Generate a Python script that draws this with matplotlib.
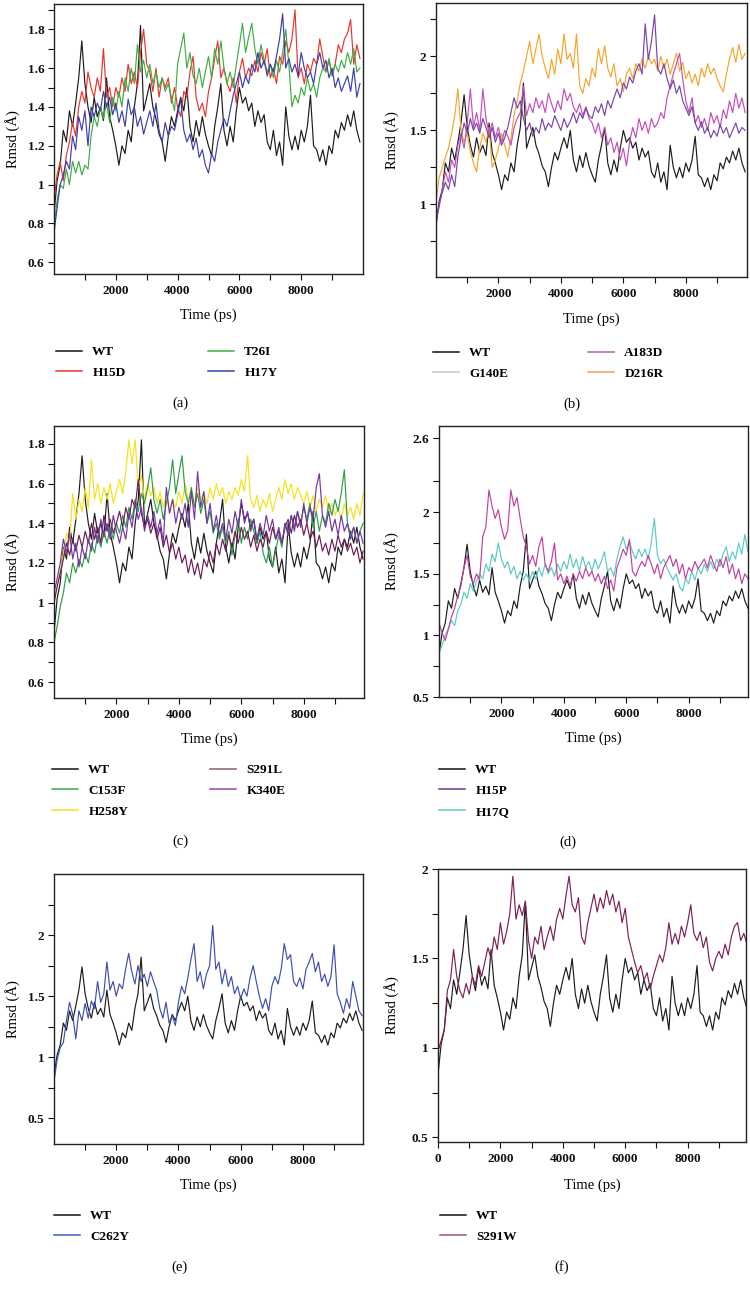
import numpy as np
import matplotlib
matplotlib.use("Agg")
import matplotlib.pyplot as plt
from matplotlib.lines import Line2D
from matplotlib.ticker import FixedLocator, FuncFormatter

plt.rcParams['font.family'] = ['Liberation Serif', 'DejaVu Serif']

# ---------------- data (RMSD in Angstrom, every 100 ps) ----------------
time_ps = np.arange(0, 10000, 100)

WT = [0.85, 1.02, 1.10, 1.28, 1.22, 1.38, 1.30, 1.42, 1.55, 1.74,
      1.52, 1.40, 1.32, 1.45, 1.35, 1.40, 1.33, 1.55, 1.35, 1.28,
      1.20, 1.10, 1.20, 1.16, 1.28, 1.22, 1.40, 1.52, 1.82, 1.38,
      1.45, 1.52, 1.40, 1.34, 1.26, 1.22, 1.12, 1.25, 1.35, 1.30,
      1.38, 1.45, 1.38, 1.50, 1.30, 1.22, 1.33, 1.25, 1.35, 1.26,
      1.20, 1.15, 1.30, 1.40, 1.52, 1.28, 1.20, 1.30, 1.22, 1.38,
      1.50, 1.42, 1.45, 1.38, 1.42, 1.30, 1.38, 1.32, 1.36, 1.22,
      1.18, 1.28, 1.15, 1.22, 1.10, 1.40, 1.25, 1.18, 1.25, 1.18,
      1.28, 1.22, 1.30, 1.46, 1.20, 1.18, 1.12, 1.18, 1.10, 1.20,
      1.16, 1.28, 1.24, 1.32, 1.28, 1.36, 1.30, 1.38, 1.28, 1.22]

H15D = [0.92, 1.05, 1.12, 1.02, 1.15, 1.22, 1.32, 1.25, 1.40, 1.48,
        1.42, 1.58, 1.50, 1.45, 1.55, 1.48, 1.70, 1.45, 1.50, 1.40,
        1.50, 1.45, 1.55, 1.48, 1.62, 1.52, 1.58, 1.50, 1.68, 1.80,
        1.62, 1.58, 1.48, 1.60, 1.45, 1.55, 1.50, 1.55, 1.42, 1.50,
        1.40, 1.35, 1.48, 1.45, 1.58, 1.66, 1.45, 1.38, 1.42, 1.35,
        1.48, 1.55, 1.65, 1.74, 1.55, 1.60, 1.52, 1.48, 1.55, 1.42,
        1.58, 1.65, 1.55, 1.60, 1.56, 1.64, 1.58, 1.68, 1.62, 1.70,
        1.55, 1.60, 1.52, 1.66, 1.62, 1.74, 1.68, 1.75, 1.90, 1.55,
        1.60, 1.52, 1.62, 1.58, 1.65, 1.62, 1.75, 1.66, 1.58, 1.64,
        1.56, 1.62, 1.72, 1.68, 1.75, 1.78, 1.85, 1.62, 1.72, 1.65]

T26I = [0.78, 0.92, 1.00, 0.98, 1.08, 1.00, 1.12, 1.06, 1.12, 1.05,
        1.10, 1.08, 1.25, 1.35, 1.30, 1.40, 1.34, 1.42, 1.32, 1.45,
        1.38, 1.48, 1.40, 1.55, 1.48, 1.60, 1.52, 1.72, 1.58, 1.64,
        1.55, 1.62, 1.52, 1.58, 1.50, 1.55, 1.48, 1.52, 1.45, 1.38,
        1.62, 1.70, 1.78, 1.60, 1.68, 1.56, 1.52, 1.60, 1.50, 1.58,
        1.66, 1.55, 1.70, 1.62, 1.74, 1.60, 1.52, 1.58, 1.50, 1.62,
        1.72, 1.83, 1.68, 1.76, 1.83, 1.70, 1.62, 1.72, 1.64, 1.58,
        1.62, 1.55, 1.64, 1.58, 1.68, 1.80, 1.62, 1.40, 1.46, 1.42,
        1.50, 1.46, 1.55, 1.48, 1.52, 1.45, 1.55, 1.60, 1.58, 1.65,
        1.56, 1.62, 1.58, 1.64, 1.60, 1.68, 1.62, 1.70, 1.58, 1.60]

H17Y = [0.75, 0.88, 1.00, 1.05, 1.12, 1.08, 1.25, 1.18, 1.35, 1.28,
        1.38, 1.20, 1.40, 1.35, 1.42, 1.38, 1.48, 1.40, 1.45, 1.36,
        1.42, 1.32, 1.38, 1.30, 1.44, 1.36, 1.40, 1.30, 1.35, 1.26,
        1.32, 1.38, 1.30, 1.42, 1.28, 1.22, 1.32, 1.25, 1.30, 1.28,
        1.36, 1.44, 1.28, 1.22, 1.26, 1.18, 1.24, 1.14, 1.18, 1.10,
        1.06, 1.16, 1.12, 1.22, 1.28, 1.34, 1.30, 1.38, 1.46, 1.52,
        1.58, 1.50, 1.56, 1.52, 1.62, 1.58, 1.68, 1.60, 1.64, 1.56,
        1.62, 1.58, 1.66, 1.75, 1.88, 1.60, 1.65, 1.58, 1.62, 1.56,
        1.68, 1.60, 1.55, 1.58, 1.52, 1.62, 1.68, 1.60, 1.64, 1.55,
        1.60, 1.50, 1.55, 1.48, 1.52, 1.56, 1.48, 1.60, 1.45, 1.52]

G140E = [0.88, 1.00, 1.08, 1.15, 1.10, 1.20, 1.12, 1.32, 1.45, 1.55,
         1.48, 1.58, 1.50, 1.55, 1.48, 1.58, 1.52, 1.45, 1.52, 1.42,
         1.48, 1.40, 1.45, 1.52, 1.62, 1.72, 1.65, 1.70, 1.58, 1.50,
         1.55, 1.46, 1.52, 1.48, 1.58, 1.50, 1.55, 1.52, 1.60, 1.55,
         1.50, 1.58, 1.52, 1.56, 1.62, 1.55, 1.62, 1.58, 1.65, 1.60,
         1.58, 1.66, 1.62, 1.68, 1.60, 1.70, 1.65, 1.72, 1.78, 1.72,
         1.82, 1.78, 1.86, 1.82, 1.90, 1.95, 1.88, 2.22, 1.98, 2.10,
         2.28, 1.92, 1.88, 1.95, 1.85, 1.78, 1.84, 1.75, 1.80, 1.70,
         1.65, 1.60, 1.66, 1.55, 1.50, 1.56, 1.48, 1.52, 1.45, 1.50,
         1.46, 1.54, 1.48, 1.52, 1.45, 1.50, 1.55, 1.48, 1.52, 1.50]

A183D = [0.90, 0.98, 1.10, 1.22, 1.15, 1.30, 1.25, 1.40, 1.48, 1.38,
         1.55, 1.78, 1.52, 1.62, 1.50, 1.78, 1.58, 1.48, 1.55, 1.45,
         1.52, 1.42, 1.50, 1.46, 1.40, 1.52, 1.58, 1.62, 1.80, 1.60,
         1.68, 1.62, 1.72, 1.65, 1.70, 1.62, 1.75, 1.68, 1.62, 1.70,
         1.64, 1.78, 1.70, 1.75, 1.66, 1.62, 1.68, 1.60, 1.66, 1.58,
         1.55, 1.48, 1.55, 1.45, 1.52, 1.40, 1.45, 1.35, 1.42, 1.30,
         1.38, 1.26, 1.42, 1.52, 1.45, 1.58, 1.50, 1.56, 1.48, 1.58,
         1.52, 1.55, 1.62, 1.58, 1.72, 1.80, 1.88, 1.95, 2.02, 1.85,
         1.70, 1.62, 1.72, 1.55, 1.60, 1.52, 1.58, 1.50, 1.62, 1.55,
         1.60, 1.52, 1.64, 1.58, 1.70, 1.62, 1.75, 1.65, 1.72, 1.62]

D216R = [1.02, 1.18, 1.25, 1.32, 1.38, 1.48, 1.60, 1.78, 1.50, 1.42,
         1.48, 1.36, 1.28, 1.22, 1.38, 1.48, 1.42, 1.52, 1.25, 1.30,
         1.38, 1.48, 1.40, 1.32, 1.45, 1.60, 1.70, 1.82, 1.90, 2.00,
         2.10, 1.95, 2.05, 2.15, 2.00, 1.92, 1.85, 1.98, 1.88, 2.05,
         1.95, 2.15, 1.98, 2.02, 1.92, 2.15, 1.80, 1.75, 1.85, 1.80,
         1.92, 1.86, 2.05, 1.95, 2.07, 1.92, 1.86, 1.95, 1.80, 1.85,
         1.76, 1.88, 1.92, 1.85, 1.95, 1.90, 1.98, 1.92, 2.00, 1.95,
         1.98, 1.90, 2.00, 1.92, 1.98, 1.88, 1.95, 2.02, 1.90, 1.96,
         1.85, 1.90, 1.82, 1.88, 1.80, 1.92, 1.86, 1.95, 1.88, 1.92,
         1.85, 1.80, 1.76, 1.88, 1.98, 2.06, 1.96, 2.08, 1.98, 2.02]

C153F = [0.80, 0.88, 0.98, 1.05, 1.15, 1.10, 1.20, 1.15, 1.22, 1.18,
         1.25, 1.20, 1.30, 1.25, 1.34, 1.28, 1.36, 1.30, 1.38, 1.32,
         1.40, 1.35, 1.44, 1.38, 1.48, 1.42, 1.52, 1.46, 1.55, 1.50,
         1.58, 1.68, 1.52, 1.45, 1.52, 1.42, 1.50, 1.58, 1.72, 1.55,
         1.65, 1.74, 1.56, 1.50, 1.58, 1.48, 1.55, 1.45, 1.52, 1.40,
         1.46, 1.35, 1.40, 1.32, 1.38, 1.30, 1.36, 1.24, 1.34, 1.42,
         1.30, 1.38, 1.32, 1.42, 1.36, 1.30, 1.36, 1.25, 1.20, 1.28,
         1.18, 1.26, 1.34, 1.28, 1.40, 1.34, 1.44, 1.38, 1.46, 1.40,
         1.48, 1.42, 1.50, 1.38, 1.46, 1.36, 1.44, 1.40, 1.50, 1.44,
         1.52, 1.46, 1.55, 1.67, 1.40, 1.34, 1.38, 1.30, 1.36, 1.40]

H258Y = [1.00, 1.08, 1.15, 1.25, 1.35, 1.30, 1.55, 1.42, 1.52, 1.46,
         1.58, 1.48, 1.72, 1.52, 1.60, 1.50, 1.58, 1.52, 1.60, 1.50,
         1.56, 1.62, 1.55, 1.66, 1.82, 1.70, 1.82, 1.58, 1.64, 1.52,
         1.60, 1.54, 1.58, 1.50, 1.56, 1.48, 1.55, 1.46, 1.52, 1.48,
         1.56, 1.50, 1.60, 1.52, 1.56, 1.50, 1.58, 1.52, 1.56, 1.50,
         1.58, 1.52, 1.60, 1.54, 1.58, 1.50, 1.56, 1.52, 1.58, 1.54,
         1.62, 1.56, 1.74, 1.52, 1.48, 1.54, 1.46, 1.52, 1.48, 1.55,
         1.46, 1.52, 1.58, 1.52, 1.62, 1.55, 1.60, 1.52, 1.58, 1.54,
         1.50, 1.56, 1.48, 1.54, 1.46, 1.52, 1.48, 1.54, 1.46, 1.50,
         1.44, 1.48, 1.42, 1.50, 1.44, 1.48, 1.42, 1.50, 1.44, 1.55]

S291L = [1.00, 1.08, 1.15, 1.22, 1.30, 1.24, 1.32, 1.26, 1.34, 1.28,
         1.36, 1.30, 1.40, 1.32, 1.38, 1.30, 1.44, 1.36, 1.42, 1.35,
         1.40, 1.46, 1.38, 1.48, 1.42, 1.52, 1.48, 1.62, 1.45, 1.38,
         1.42, 1.35, 1.40, 1.32, 1.38, 1.28, 1.34, 1.25, 1.30, 1.22,
         1.28, 1.20, 1.24, 1.15, 1.22, 1.14, 1.20, 1.12, 1.22, 1.18,
         1.26, 1.20, 1.30, 1.24, 1.32, 1.26, 1.34, 1.28, 1.36, 1.30,
         1.38, 1.32, 1.36, 1.28, 1.34, 1.26, 1.32, 1.28, 1.36, 1.30,
         1.38, 1.32, 1.36, 1.30, 1.38, 1.42, 1.35, 1.44, 1.38, 1.42,
         1.34, 1.40, 1.32, 1.36, 1.28, 1.34, 1.26, 1.30, 1.24, 1.32,
         1.26, 1.34, 1.28, 1.32, 1.26, 1.30, 1.24, 1.28, 1.20, 1.26]

K340E = [1.05, 1.12, 1.20, 1.32, 1.25, 1.35, 1.22, 1.30, 1.18, 1.28,
         1.22, 1.32, 1.26, 1.38, 1.30, 1.42, 1.34, 1.40, 1.32, 1.44,
         1.36, 1.30, 1.38, 1.32, 1.45, 1.38, 1.50, 1.42, 1.48, 1.36,
         1.44, 1.38, 1.46, 1.35, 1.42, 1.30, 1.58, 1.45, 1.52, 1.40,
         1.48, 1.42, 1.50, 1.38, 1.56, 1.42, 1.66, 1.48, 1.56, 1.40,
         1.50, 1.36, 1.44, 1.34, 1.40, 1.32, 1.42, 1.35, 1.46, 1.38,
         1.52, 1.40, 1.46, 1.36, 1.42, 1.32, 1.40, 1.34, 1.44, 1.36,
         1.42, 1.32, 1.38, 1.30, 1.40, 1.34, 1.44, 1.36, 1.46, 1.38,
         1.50, 1.40, 1.48, 1.42, 1.58, 1.65, 1.44, 1.38, 1.46, 1.36,
         1.42, 1.34, 1.44, 1.36, 1.40, 1.32, 1.38, 1.30, 1.36, 1.30]

H15P = [1.10, 1.02, 0.96, 1.05, 1.15, 1.22, 1.32, 1.40, 1.55, 1.65,
        1.48, 1.42, 1.50, 1.45, 1.80, 1.88, 2.18, 2.05, 1.95, 2.02,
        1.88, 1.78, 1.85, 2.18, 2.05, 2.12, 1.95, 1.80, 1.72, 1.58,
        1.65, 1.56, 1.72, 1.80, 1.58, 1.52, 1.60, 1.75, 1.45, 1.50,
        1.42, 1.48, 1.40, 1.50, 1.44, 1.52, 1.46, 1.55, 1.48, 1.52,
        1.44, 1.50, 1.42, 1.48, 1.38, 1.45, 1.36, 1.55, 1.62, 1.70,
        1.65, 1.78, 1.52, 1.48, 1.55, 1.60, 1.56, 1.65, 1.58, 1.50,
        1.58, 1.46, 1.55, 1.60, 1.65, 1.56, 1.62, 1.50, 1.58, 1.46,
        1.55, 1.52, 1.60, 1.54, 1.58, 1.62, 1.55, 1.65, 1.58, 1.52,
        1.62, 1.55, 1.64, 1.50, 1.58, 1.46, 1.54, 1.42, 1.50, 1.46]

H17Q = [0.85, 0.92, 1.00, 1.06, 1.12, 1.08, 1.20, 1.25, 1.35, 1.30,
        1.42, 1.36, 1.44, 1.50, 1.46, 1.58, 1.52, 1.66, 1.60, 1.75,
        1.62, 1.55, 1.60, 1.50, 1.56, 1.46, 1.52, 1.45, 1.50, 1.44,
        1.52, 1.46, 1.55, 1.48, 1.58, 1.50, 1.55, 1.48, 1.58, 1.52,
        1.60, 1.54, 1.66, 1.55, 1.62, 1.52, 1.64, 1.55, 1.60, 1.52,
        1.62, 1.54, 1.60, 1.68, 1.52, 1.55, 1.48, 1.62, 1.72, 1.80,
        1.70, 1.76, 1.68, 1.62, 1.70, 1.64, 1.70, 1.62, 1.75, 1.95,
        1.65, 1.58, 1.62, 1.55, 1.50, 1.45, 1.50, 1.40, 1.36, 1.46,
        1.42, 1.52, 1.45, 1.55, 1.50, 1.58, 1.52, 1.60, 1.54, 1.62,
        1.56, 1.66, 1.72, 1.60, 1.68, 1.62, 1.75, 1.66, 1.82, 1.68]

C262Y = [0.80, 0.98, 1.08, 1.12, 1.30, 1.45, 1.35, 1.15, 1.38, 1.30,
         1.44, 1.32, 1.46, 1.40, 1.62, 1.45, 1.52, 1.78, 1.55, 1.62,
         1.50, 1.60, 1.56, 1.72, 1.85, 1.70, 1.60, 1.75, 1.62, 1.68,
         1.58, 1.70, 1.62, 1.55, 1.40, 1.32, 1.45, 1.28, 1.34, 1.26,
         1.45, 1.58, 1.52, 1.65, 1.80, 1.93, 1.62, 1.70, 1.56, 1.68,
         1.75, 2.08, 1.72, 1.78, 1.60, 1.72, 1.58, 1.66, 1.52, 1.58,
         1.48, 1.56, 1.50, 1.65, 1.75, 1.62, 1.50, 1.40, 1.48, 1.38,
         1.58, 1.66, 1.60, 1.72, 1.93, 1.80, 1.84, 1.62, 1.58, 1.65,
         1.56, 1.72, 1.78, 1.85, 1.70, 1.78, 1.62, 1.68, 1.58, 1.66,
         1.92, 1.52, 1.45, 1.36, 1.48, 1.40, 1.62, 1.50, 1.38, 1.34]

S291W = [0.98, 1.04, 1.10, 1.32, 1.38, 1.55, 1.40, 1.32, 1.28, 1.36,
         1.30, 1.40, 1.35, 1.46, 1.40, 1.48, 1.56, 1.50, 1.62, 1.55,
         1.70, 1.58, 1.65, 1.75, 1.96, 1.72, 1.80, 1.74, 1.82, 1.60,
         1.50, 1.62, 1.58, 1.68, 1.55, 1.62, 1.68, 1.60, 1.72, 1.78,
         1.72, 1.85, 1.96, 1.80, 1.76, 1.84, 1.62, 1.58, 1.70, 1.78,
         1.86, 1.76, 1.84, 1.78, 1.88, 1.80, 1.86, 1.76, 1.82, 1.70,
         1.78, 1.62, 1.55, 1.48, 1.42, 1.46, 1.38, 1.42, 1.33, 1.40,
         1.46, 1.52, 1.48, 1.56, 1.70, 1.58, 1.64, 1.58, 1.68, 1.62,
         1.70, 1.80, 1.64, 1.60, 1.65, 1.56, 1.62, 1.48, 1.43, 1.50,
         1.54, 1.50, 1.58, 1.52, 1.62, 1.68, 1.70, 1.60, 1.64, 1.58]

# ---------------- figure ----------------
W, H = 750, 1289
fig = plt.figure(figsize=(W / 100, H / 100), dpi=100)

FS_TICK = 9.5
FS_LAB = 10.5
FS_LEG = 9.5
FS_TAG = 10.5


def add_ax(l, t, r, b):
    return fig.add_axes([l / W, 1 - b / H, (r - l) / W, (b - t) / H])


def fy(y):
    return 1 - y / H


fmt = FuncFormatter(lambda v, p: f"{v:g}")

panels = [
    dict(box=(54, 4, 363, 274), xlim=(0, 10000), ylim=(0.54, 1.93),
         ymaj=[0.6, 0.8, 1.0, 1.2, 1.4, 1.6, 1.8],
         ymin=[0.7, 0.9, 1.1, 1.3, 1.5, 1.7, 1.9],
         series=[(WT, '#1c1c1c'), (H15D, '#e8342f'), (T26I, '#40ad45'), (H17Y, '#3b40a8')],
         cols=[(56, [('WT', '#111111'), ('H15D', '#e8342f')]),
               (208, [('T26I', '#40ad45'), ('H17Y', '#3b40a8')])],
         ylab_x=13, time_y=315, leg_y=352, tag='(a)', tag_xy=(180, 403)),
    dict(box=(436, 3, 747, 277), xlim=(0, 9960), ylim=(0.51, 2.36),
         ymaj=[1.0, 1.5, 2.0], ymin=[0.75, 1.25, 1.75, 2.25],
         series=[(WT, '#1c1c1c'), (D216R, '#f5a52a'), (A183D, '#c44fb4'), (G140E, '#7a44a8')],
         cols=[(433, [('WT', '#111111'), ('G140E', '#cbc3d2')]),
               (588, [('A183D', '#c055c4'), ('D216R', '#f0a050')])],
         ylab_x=392, time_y=319, leg_y=353, tag='(b)', tag_xy=(572, 404)),
    dict(box=(54, 426, 364, 698), xlim=(0, 9930), ylim=(0.52, 1.89),
         ymaj=[0.6, 0.8, 1.0, 1.2, 1.4, 1.6, 1.8],
         ymin=[0.7, 0.9, 1.1, 1.3, 1.5, 1.7],
         series=[(WT, '#1c1c1c'), (H258Y, '#f3e21c'), (C153F, '#2f9c48'),
                 (S291L, '#6e1c55'), (K340E, '#7435a2')],
         cols=[(52, [('WT', '#111111'), ('C153F', '#3faa55'), ('H258Y', '#f3e21c')]),
               (210, [('S291L', '#8a5a7a'), ('K340E', '#9a48aa')])],
         ylab_x=13, time_y=739, leg_y=770, tag='(c)', tag_xy=(180, 841)),
    dict(box=(439, 426, 748, 697), xlim=(0, 9900), ylim=(0.5, 2.70),
         ymaj=[0.5, 1.0, 1.5, 2.0, 2.6], ymin=[0.75, 1.25, 1.75, 2.25],
         series=[(WT, '#1c1c1c'), (H17Q, '#5cc9c3'), (H15P, '#c2409f')],
         cols=[(439, [('WT', '#111111'), ('H15P', '#6f3a85'), ('H17Q', '#5cc9c3')])],
         ylab_x=392, time_y=738, leg_y=770, tag='(d)', tag_xy=(568, 842)),
    dict(box=(54, 874, 363, 1144), xlim=(0, 9930), ylim=(0.29, 2.50),
         ymaj=[0.5, 1.0, 1.5, 2.0], ymin=[0.75, 1.25, 1.75, 2.25],
         series=[(WT, '#1c1c1c'), (C262Y, '#3f4fb0')],
         cols=[(54, [('WT', '#111111'), ('C262Y', '#3f5fb8')])],
         ylab_x=13, time_y=1185, leg_y=1216, tag='(e)', tag_xy=(180, 1267)),
    dict(box=(438, 869, 746, 1142), xlim=(0, 9870), ylim=(0.474, 2.0),
         ymaj=[0.5, 1.0, 1.5, 2.0], ymin=[0.75, 1.25, 1.75],
         series=[(WT, '#1c1c1c'), (S291W, '#7e1f56')],
         cols=[(440, [('WT', '#111111'), ('S291W', '#9a5a6a')])],
         ylab_x=392, time_y=1185, leg_y=1216, tag='(f)', tag_xy=(562, 1267), zero=True),
]

for p in panels:
    l, t, r, b = p['box']
    ax = add_ax(l, t, r, b)
    for vals, col in p['series']:
        ax.plot(time_ps, vals, color=col, lw=0.85)
    ax.set_xlim(*p['xlim'])
    ax.set_ylim(*p['ylim'])
    xmaj = [0, 2000, 4000, 6000, 8000] if p.get('zero') else [2000, 4000, 6000, 8000]
    ax.xaxis.set_major_locator(FixedLocator(xmaj))
    ax.xaxis.set_minor_locator(FixedLocator([1000, 3000, 5000, 7000, 9000]))
    ax.yaxis.set_major_locator(FixedLocator(p['ymaj']))
    ax.yaxis.set_minor_locator(FixedLocator(p['ymin']))
    ax.xaxis.set_major_formatter(fmt)
    ax.yaxis.set_major_formatter(fmt)
    ax.tick_params(which='both', direction='out', length=4, width=0.8,
                   labelsize=FS_TICK, colors='#111111')
    ax.tick_params(axis='x', which='major', pad=4)
    ax.tick_params(axis='y', which='major', pad=3)
    for lab in ax.get_xticklabels() + ax.get_yticklabels():
        lab.set_fontweight('bold')
    for s in ax.spines.values():
        s.set_linewidth(1.0)
        s.set_color('#222222')

    # axis labels
    fig.text(p['ylab_x'] / W, fy((t + b) / 2), 'Rmsd (Å)', rotation=90,
             ha='center', va='center', fontsize=FS_LAB)
    fig.text((l + r) / 2 / W, fy(p['time_y']), 'Time (ps)',
             ha='center', va='center', fontsize=FS_LAB)
    fig.text(p['tag_xy'][0] / W, fy(p['tag_xy'][1]), p['tag'],
             ha='center', va='center', fontsize=FS_TAG)

    # legend columns
    for x0, entries in p['cols']:
        handles = [Line2D([], [], color=c, lw=1.1) for _, c in entries]
        labels = [n for n, _ in entries]
        fig.legend(handles, labels, loc='upper left',
                   bbox_to_anchor=(x0 / W, fy(p['leg_y'] - 6)),
                   bbox_transform=fig.transFigure, frameon=False,
                   borderpad=0, borderaxespad=0, handlelength=2.0,
                   handletextpad=0.75, labelspacing=0.65,
                   prop={'size': FS_LEG, 'weight': 'bold'})

fig.savefig('out.png', dpi=100)
